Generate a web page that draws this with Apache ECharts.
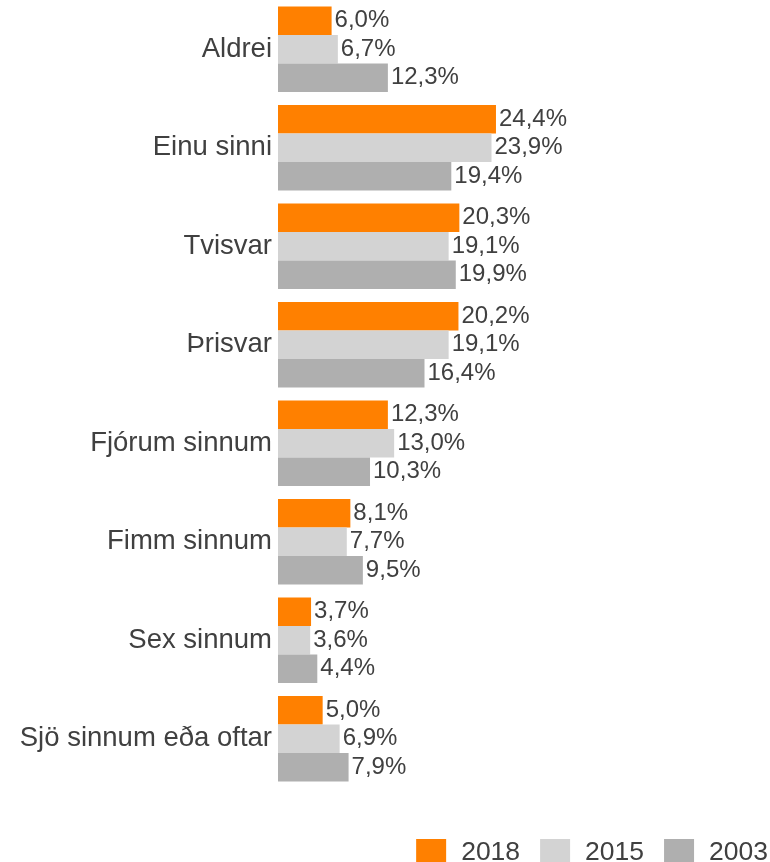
<!DOCTYPE html>
<html>
<head>
<meta charset="utf-8">
<script src="https://cdn.jsdelivr.net/npm/echarts@6/dist/echarts.min.js"></script>
<style>
  html, body { margin: 0; padding: 0; background: #fff; }
  #chart { width: 770px; height: 862px; }
</style>
</head>
<body>
<div id="chart"></div>
<script>
// Answer categories, top to bottom
const categories = [
  'Aldrei', 'Einu sinni', 'Tvisvar', 'Þrisvar',
  'Fjórum sinnum', 'Fimm sinnum', 'Sex sinnum', 'Sjö sinnum eða oftar'
];
const years = ['2018', '2015', '2003'];
// Shares in percent per survey year
const values2018 = [6.0, 24.4, 20.3, 20.2, 12.3, 8.1, 3.7, 5.0];
const values2015 = [6.7, 23.9, 19.1, 19.1, 13.0, 7.7, 3.6, 6.9];
const values2003 = [12.3, 19.4, 19.9, 16.4, 10.3, 9.5, 4.4, 7.9];
const colors = ['#FF8000', '#D3D3D3', '#AFAFAF'];

const textColor = '#404040';
const fontFamily = '"Liberation Sans", Arial, sans-serif';
const fmt = v => v.toFixed(1).replace('.', ',') + '%';

const chart = echarts.init(document.getElementById('chart'));
const seriesData = [values2018, values2015, values2003];

chart.setOption({
  animation: false,
  textStyle: { fontFamily: fontFamily },
  grid: { left: 278, right: 224, top: 0, bottom: 74, containLabel: false },
  legend: {
    data: years,
    right: -3,
    top: 834,
    icon: 'rect',
    itemWidth: 30,
    itemHeight: 28,
    itemGap: 20,
    textStyle: { color: textColor, fontSize: 26.5, fontFamily: fontFamily, padding: [0, 0, 0, 10] }
  },
  xAxis: {
    type: 'value',
    min: 0,
    max: 30,
    show: false
  },
  yAxis: {
    type: 'category',
    data: categories,
    inverse: true,
    axisLine: { show: false },
    axisTick: { show: false },
    splitLine: { show: false },
    axisLabel: { color: textColor, fontSize: 27.5, margin: 6, fontFamily: fontFamily, padding: [2, 0, 0, 0] }
  },
  series: years.map((y, i) => ({
    name: y,
    type: 'bar',
    data: seriesData[i],
    barGap: '0%',
    barCategoryGap: '13.2%',
    itemStyle: { color: colors[i] },
    label: {
      show: true,
      position: 'right',
      distance: 3,
      color: textColor,
      fontSize: 24,
      fontFamily: fontFamily,
      padding: [2, 0, 0, 0],
      formatter: p => fmt(p.value)
    }
  }))
});
</script>
</body>
</html>
